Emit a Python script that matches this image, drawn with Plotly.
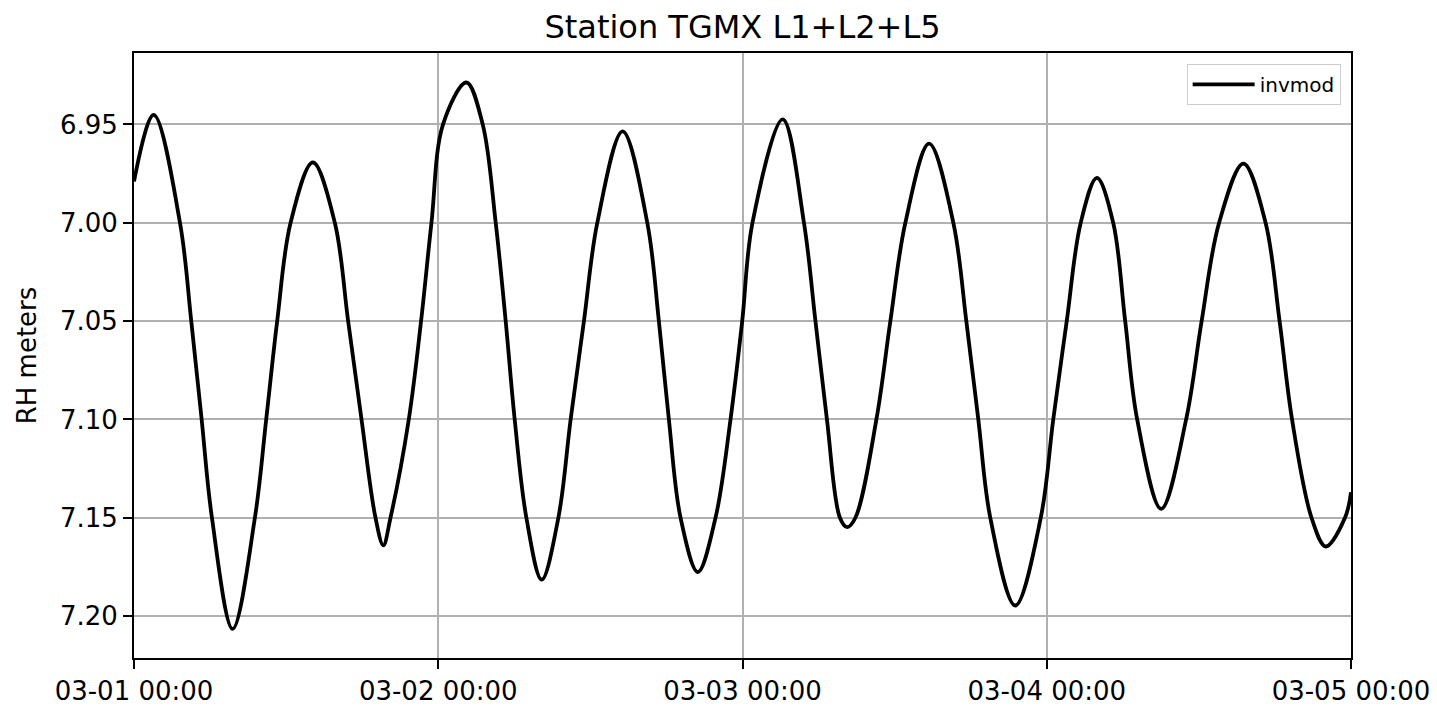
import plotly.graph_objects as go
import pandas as pd

# Hours after 2023-03-01 00:00 and reflector height (m)
hours = [0.000, 1.553, 3.626, 4.516, 5.336, 6.148, 7.779,
         9.537, 10.428, 11.295, 12.351, 14.108, 15.842, 16.891, 17.947, 19.050,
         19.665, 20.233, 21.675, 22.645, 23.464, 24.378, 26.223, 27.507, 28.532, 29.320,
         30.030, 30.952, 32.158, 33.474, 34.443, 35.492, 36.548, 38.542, 40.489, 41.403,
         42.191, 43.114, 44.477, 45.872, 47.054, 47.977, 48.788, 51.177, 52.847, 53.754,
         54.660, 55.685, 56.253, 56.907, 58.562, 59.665, 60.847, 62.716, 64.631, 65.655,
         66.601, 67.547, 69.517, 71.527, 72.513, 73.577, 74.680, 75.957, 77.242, 78.187,
         79.133, 81.025, 82.995, 84.217, 85.596, 87.512, 89.261, 90.365,
         91.350, 92.887, 94.006, 95.527, 96.000]
rh = [6.979, 6.9452, 7.00, 7.05, 7.10, 7.15, 7.2065,
      7.15, 7.10, 7.05, 7.00, 6.9693, 7.00, 7.05, 7.10, 7.15,
      7.164, 7.15, 7.10, 7.05, 7.00, 6.95, 6.9287, 6.95, 7.00, 7.05,
      7.10, 7.15, 7.1815, 7.15, 7.10, 7.05, 7.00, 6.9535, 7.00, 7.05,
      7.10, 7.15, 7.1776, 7.15, 7.10, 7.05, 7.00, 6.9474, 7.00, 7.05,
      7.10, 7.15, 7.1548, 7.15, 7.10, 7.05, 7.00, 6.9598, 7.00, 7.05,
      7.10, 7.15, 7.1946, 7.15, 7.10, 7.05, 7.00, 6.9772, 7.00, 7.05,
      7.10, 7.1455, 7.10, 7.05, 7.00, 6.9699, 7.00, 7.05,
      7.10, 7.15, 7.1646, 7.15, 7.137]

x_tick_dates = ["2023-03-01", "2023-03-02", "2023-03-03", "2023-03-04", "2023-03-05"]
x_tick_labels = ["03-01 00:00", "03-02 00:00", "03-03 00:00", "03-04 00:00", "03-05 00:00"]
y_tick_vals = [6.95, 7.00, 7.05, 7.10, 7.15, 7.20]
y_tick_labels = ["6.95", "7.00", "7.05", "7.10", "7.15", "7.20"]

base = pd.Timestamp("2023-03-01 00:00")
times = base + pd.to_timedelta(hours, unit="h")

fig = go.Figure()
fig.add_trace(go.Scatter(
    x=times, y=rh, mode="lines", name="invmod", showlegend=True,
    line=dict(color="black", width=3.8, shape="spline", smoothing=1.0),
))

axis_common = dict(
    showgrid=True, gridcolor="#b0b0b0", gridwidth=1.5,
    showline=True, linecolor="black", linewidth=2, mirror=True,
    ticks="outside", ticklen=9, tickwidth=2, tickcolor="black",
    tickfont=dict(size=26, color="black"), zeroline=False, automargin=False,
)

fig.update_layout(
    width=1437, height=706,
    margin=dict(l=134, r=86, t=53, b=48),
    paper_bgcolor="white", plot_bgcolor="white",
    font=dict(family="DejaVu Sans", color="black"),
    title=dict(text="Station TGMX L1+L2+L5", x=0.5, xref="paper", xanchor="center",
               y=1 - 27 / 706, yref="container", yanchor="middle",
               font=dict(size=32, color="black")),
    xaxis=dict(type="date", range=[pd.Timestamp(x_tick_dates[0]), pd.Timestamp(x_tick_dates[-1])],
               tickvals=[pd.Timestamp(d) for d in x_tick_dates], ticktext=x_tick_labels,
               **axis_common),
    yaxis=dict(range=[7.2213, 6.9137], tickvals=y_tick_vals, ticktext=y_tick_labels,
               title=dict(text="RH meters", font=dict(size=26, color="black"), standoff=16),
               **axis_common),
    legend=dict(x=0.9915, y=0.982, xanchor="right", yanchor="top",
                bgcolor="white", bordercolor="#cccccc", borderwidth=1,
                itemwidth=62, font=dict(size=20, color="black")),
)

fig.write_html("out.html")
